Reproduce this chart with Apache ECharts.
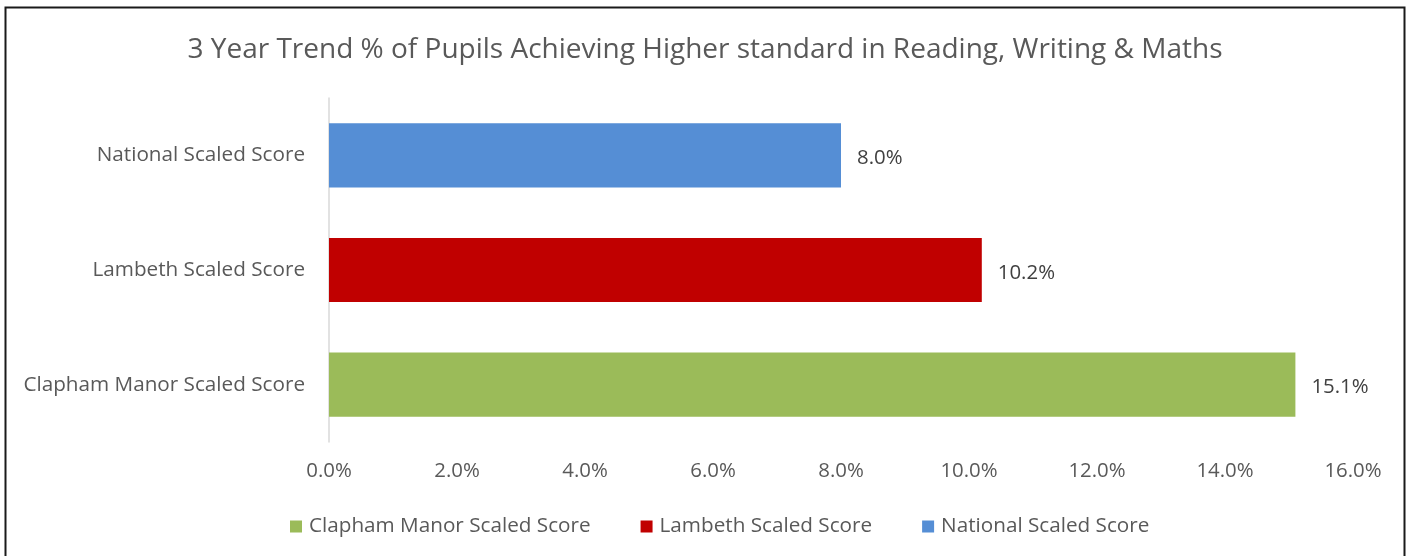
<!DOCTYPE html>
<html>
<head>
<meta charset="utf-8">
<title>3 Year Trend</title>
<script src="https://cdn.jsdelivr.net/npm/echarts@6/dist/echarts.min.js"></script>
<style>
  html, body { margin: 0; padding: 0; background: #ffffff; }
  #chart { width: 1410px; height: 556px; }
</style>
</head>
<body>
<div id="chart"></div>
<script>
// categories from bottom to top (echarts draws the first category at the bottom)
var categories = ['Clapham Manor Scaled Score', 'Lambeth Scaled Score', 'National Scaled Score'];
var values = [15.1, 10.2, 8.0];
var colors = ['#9bbb59', '#c00000', '#558ed5'];
var axisTicks = [0, 2, 4, 6, 8, 10, 12, 14, 16];

var FONT = 'Open Sans';
var GREY = '#595959';

// one series per category so each gets its own legend entry
var series = categories.map(function (name, i) {
  var data = categories.map(function (c, j) { return j === i ? values[i] : null; });
  return {
    name: name,
    type: 'bar',
    stack: 'all',
    barWidth: '56%',
    itemStyle: { color: colors[i] },
    label: {
      show: true,
      position: 'right',
      distance: 16,
      color: '#404040',
      fontFamily: FONT,
      fontSize: 20.4,
      offset: [0, 3],
      formatter: function (p) { return p.value.toFixed(1) + '%'; }
    },
    data: data
  };
});

var chart = echarts.init(document.getElementById('chart'));
chart.setOption({
  animation: false,
  textStyle: { fontFamily: FONT },
  title: {
    text: '3 Year Trend % of Pupils Achieving Higher standard in Reading, Writing & Maths',
    left: 'center',
    top: 31,
    textStyle: { fontFamily: FONT, fontSize: 28, fontWeight: 'normal', color: GREY }
  },
  legend: {
    top: 511,
    left: 285,
    itemWidth: 12,
    itemHeight: 12,
    itemGap: 50,
    icon: 'rect',
    textStyle: { fontFamily: FONT, fontSize: 20.7, color: GREY, padding: [0, 0, 0, 2] },
    data: categories
  },
  grid: { left: 329, right: 57, top: 98, bottom: 114 },
  xAxis: {
    type: 'value',
    min: axisTicks[0],
    max: axisTicks[axisTicks.length - 1],
    interval: 2,
    axisLine: { show: false },
    axisTick: { show: false },
    splitLine: { show: false },
    axisLabel: {
      margin: 19,
      color: GREY,
      fontFamily: FONT,
      fontSize: 20.4,
      formatter: function (v) { return v.toFixed(1) + '%'; }
    }
  },
  yAxis: {
    type: 'category',
    data: categories,
    axisLine: { show: true, lineStyle: { color: '#d9d9d9', width: 1.5 } },
    axisTick: { show: false },
    axisLabel: { margin: 24, color: GREY, fontFamily: FONT, fontSize: 20.7 }
  },
  graphic: [{
    type: 'rect',
    shape: { x: 5.5, y: 7.5, width: 1399, height: 560 },
    style: { fill: 'none', stroke: '#1a1a1a', lineWidth: 2 },
    silent: true
  }],
  series: series
});
</script>
</body>
</html>
